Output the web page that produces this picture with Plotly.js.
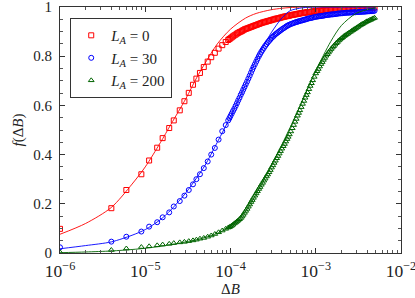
<!DOCTYPE html>
<html>
<head>
<meta charset="utf-8">
<script src="https://cdn.plot.ly/plotly-3.0.1.min.js"></script>
<style>
html,body{margin:0;padding:0;background:#fff;}
#chart{width:415px;height:298px;}
</style>
</head>
<body>
<div id="chart"></div>
<script>
// Shared ΔB grid of the measured points
var deltaB = [1e-6, 4.0e-6, 6.0e-6, 9.0e-6, 1.11e-5, 1.38e-5, 1.6e-5, 1.91e-5, 2.16e-5, 2.54e-5, 2.88e-5, 3.24e-5, 3.63e-5, 3.98e-5, 4.38e-5, 4.86e-5, 5.4e-5, 5.94e-5, 6.55e-5, 7.25e-5, 8.0e-5, 8.79e-5,
  9.4e-5, 9.7e-5, 1.0e-4, 1.035e-4, 1.07e-4, 1.11e-4, 1.15e-4, 1.19e-4, 1.23e-4, 1.275e-4, 1.32e-4, 1.365e-4, 1.41e-4, 1.46e-4, 1.51e-4, 1.565e-4, 1.62e-4, 1.68e-4, 1.74e-4, 1.8e-4, 1.86e-4, 1.93e-4,
  2.0e-4, 2.07e-4, 2.15e-4, 2.22e-4, 2.3e-4, 2.38e-4, 2.46e-4, 2.55e-4, 2.64e-4, 2.73e-4, 2.83e-4, 2.93e-4, 3.03e-4, 3.14e-4, 3.25e-4, 3.36e-4, 3.48e-4, 3.6e-4, 3.73e-4, 3.86e-4,
  4.0e-4, 4.15e-4, 4.3e-4, 4.45e-4, 4.6e-4, 4.75e-4, 4.9e-4, 5.1e-4, 5.3e-4, 5.5e-4, 5.7e-4, 5.9e-4, 6.1e-4, 6.3e-4, 6.5e-4, 6.75e-4, 7.0e-4, 7.25e-4, 7.5e-4, 7.75e-4, 8.0e-4, 8.3e-4, 8.6e-4, 8.9e-4, 9.2e-4, 9.6e-4,
  1.0e-3, 1.035e-3, 1.07e-3, 1.11e-3, 1.15e-3, 1.19e-3, 1.23e-3, 1.275e-3, 1.32e-3, 1.365e-3, 1.41e-3, 1.46e-3, 1.51e-3, 1.565e-3, 1.62e-3, 1.68e-3, 1.74e-3, 1.8e-3, 1.86e-3, 1.93e-3,
  2.0e-3, 2.07e-3, 2.15e-3, 2.22e-3, 2.3e-3, 2.38e-3, 2.46e-3, 2.55e-3, 2.64e-3, 2.73e-3, 2.83e-3, 2.93e-3, 3.03e-3, 3.14e-3, 3.25e-3, 3.36e-3, 3.48e-3, 3.6e-3, 3.73e-3, 3.86e-3,
  4.0e-3, 4.15e-3, 4.3e-3, 4.45e-3, 4.6e-3, 4.75e-3, 4.9e-3];

// f(ΔB) for L_A = 0
var fL0 = [0.098, 0.182, 0.256, 0.32, 0.376, 0.428, 0.467, 0.508, 0.539, 0.58, 0.617, 0.651, 0.684, 0.709, 0.732, 0.756, 0.778, 0.796, 0.814, 0.831, 0.845, 0.858,
  0.866, 0.870, 0.873, 0.877, 0.881, 0.885, 0.888, 0.892, 0.895, 0.898, 0.900, 0.903, 0.906, 0.909, 0.911, 0.913, 0.915, 0.917, 0.919, 0.921, 0.923, 0.925,
  0.927, 0.929, 0.931, 0.933, 0.935, 0.937, 0.938, 0.940, 0.941, 0.943, 0.944, 0.946, 0.947, 0.949, 0.950, 0.952, 0.953, 0.954, 0.955, 0.957,
  0.958, 0.960, 0.961, 0.962, 0.963, 0.964, 0.965, 0.967, 0.968, 0.969, 0.970, 0.971, 0.972, 0.973, 0.974, 0.975, 0.976, 0.977, 0.977, 0.978, 0.979, 0.980, 0.980, 0.981, 0.982, 0.983,
  0.983, 0.984, 0.984, 0.985, 0.985, 0.986, 0.986, 0.987, 0.987, 0.988, 0.988, 0.989, 0.989, 0.990, 0.990, 0.990, 0.990, 0.991, 0.991, 0.992,
  0.992, 0.992, 0.992, 0.993, 0.993, 0.993, 0.994, 0.994, 0.994, 0.995, 0.995, 0.995, 0.995, 0.996, 0.996, 0.996, 0.996, 0.997, 0.997, 0.997,
  0.997, 0.997, 0.997, 0.998, 0.998, 0.998, 0.998];

// f(ΔB) for L_A = 30
var fL30 = [0.023, 0.046, 0.066, 0.087, 0.107, 0.125, 0.145, 0.165, 0.189, 0.211, 0.233, 0.256, 0.279, 0.3, 0.32, 0.345, 0.372, 0.4, 0.427, 0.461, 0.495, 0.52,
  0.539, 0.548, 0.557, 0.567, 0.577, 0.587, 0.598, 0.609, 0.620, 0.631, 0.643, 0.653, 0.664, 0.675, 0.686, 0.697, 0.709, 0.721, 0.733, 0.745, 0.756, 0.767,
  0.778, 0.789, 0.800, 0.809, 0.818, 0.826, 0.834, 0.842, 0.849, 0.856, 0.862, 0.868, 0.874, 0.879, 0.884, 0.889, 0.893, 0.897, 0.901, 0.905,
  0.909, 0.913, 0.916, 0.920, 0.923, 0.926, 0.928, 0.931, 0.933, 0.935, 0.937, 0.939, 0.940, 0.942, 0.943, 0.945, 0.946, 0.948, 0.949, 0.951, 0.952, 0.954, 0.955, 0.956, 0.957, 0.959,
  0.960, 0.961, 0.962, 0.963, 0.963, 0.964, 0.965, 0.966, 0.967, 0.968, 0.968, 0.969, 0.970, 0.970, 0.971, 0.971, 0.972, 0.973, 0.974, 0.974,
  0.975, 0.975, 0.976, 0.976, 0.977, 0.977, 0.977, 0.978, 0.978, 0.978, 0.979, 0.979, 0.980, 0.980, 0.980, 0.980, 0.981, 0.981, 0.981, 0.982,
  0.982, 0.983, 0.983, 0.983, 0.984, 0.984, 0.985];

// f(ΔB) for L_A = 200
var fL200 = [0.003, 0.012, 0.018, 0.024, 0.027, 0.031, 0.034, 0.037, 0.04, 0.043, 0.045, 0.048, 0.051, 0.054, 0.058, 0.061, 0.066, 0.071, 0.077, 0.084, 0.091, 0.098,
  0.103, 0.105, 0.108, 0.111, 0.115, 0.120, 0.124, 0.128, 0.132, 0.137, 0.142, 0.148, 0.155, 0.163, 0.171, 0.179, 0.188, 0.197, 0.207, 0.215, 0.224, 0.233,
  0.242, 0.251, 0.260, 0.268, 0.277, 0.285, 0.294, 0.302, 0.311, 0.319, 0.328, 0.337, 0.347, 0.356, 0.366, 0.375, 0.385, 0.394, 0.404, 0.414,
  0.424, 0.434, 0.443, 0.453, 0.463, 0.472, 0.482, 0.494, 0.507, 0.520, 0.533, 0.545, 0.558, 0.569, 0.580, 0.593, 0.606, 0.618, 0.631, 0.642, 0.653, 0.666, 0.679, 0.690, 0.702, 0.716,
  0.730, 0.739, 0.748, 0.758, 0.768, 0.776, 0.785, 0.793, 0.802, 0.808, 0.815, 0.822, 0.829, 0.835, 0.841, 0.847, 0.853, 0.858, 0.864, 0.868,
  0.873, 0.877, 0.882, 0.885, 0.889, 0.892, 0.896, 0.899, 0.903, 0.906, 0.910, 0.913, 0.917, 0.920, 0.924, 0.927, 0.930, 0.933, 0.936, 0.939,
  0.942, 0.944, 0.947, 0.949, 0.952, 0.954, 0.956];

// Fitted curves
var fitB = [1e-6, 2e-6, 4e-6, 7e-6, 1e-5, 1.5e-5, 2e-5, 3e-5, 4e-5, 5e-5, 7e-5, 1e-4, 1.5e-4, 2e-4, 3e-4, 4e-4, 5e-4, 7e-4, 1e-3, 1.5e-3, 2e-3, 3e-3, 5e-3];
var fitL0   = [0.076, 0.12, 0.185, 0.28, 0.35, 0.448, 0.523, 0.628, 0.712, 0.77, 0.85, 0.91, 0.955, 0.974, 0.989, 0.995, 0.998, 1.0, 1.0, 1.0, 1.0, 1.0, 1.0];
var fitL30  = [0.017, 0.03, 0.045, 0.072, 0.095, 0.135, 0.175, 0.245, 0.305, 0.355, 0.45, 0.555, 0.685, 0.785, 0.895, 0.955, 0.985, 0.997, 1.0, 1.0, 1.0, 1.0, 1.0];
var fitL200 = [0.001, 0.004, 0.008, 0.014, 0.019, 0.027, 0.034, 0.045, 0.054, 0.063, 0.08, 0.108, 0.17, 0.24, 0.355, 0.44, 0.51, 0.62, 0.74, 0.86, 0.925, 0.975, 0.997];

var seriesNames = ['<i>L<sub>A</sub></i> = 0', '<i>L<sub>A</sub></i> = 30', '<i>L<sub>A</sub></i> = 200'];
var colors = ['#ff0000', '#0000ff', '#006400'];
var symbols = ['square-open', 'circle-open', 'triangle-up-open'];
var dataSets = [fL0, fL30, fL200];
var fitSets = [fitL0, fitL30, fitL200];

var font = 'Liberation Serif, DejaVu Serif, serif';
var traces = [];
for (var i = 0; i < 3; i++) {
  traces.push({
    x: deltaB, y: dataSets[i], type: 'scatter', mode: 'markers', name: seriesNames[i],
    marker: {symbol: symbols[i], size: 5, color: colors[i], line: {width: 1, color: colors[i]}}
  });
}
for (var j = 0; j < 3; j++) {
  traces.push({
    x: fitB, y: fitSets[j], type: 'scatter', mode: 'lines', showlegend: false,
    line: {color: colors[j], width: 0.9, shape: 'spline', smoothing: 0.8}
  });
}

var layout = {
  width: 415, height: 298,
  margin: {l: 60, r: 14, t: 7, b: 45},
  paper_bgcolor: '#fff', plot_bgcolor: '#fff',
  font: {family: font, size: 15, color: '#222'},
  showlegend: true,
  legend: {
    x: 0.03, y: 0.955, xanchor: 'left', yanchor: 'top',
    bordercolor: '#333', borderwidth: 1, bgcolor: '#fff',
    font: {family: font, size: 15, color: '#222'},
    tracegroupgap: 0, itemwidth: 30
  },
  xaxis: {
    type: 'log', range: [-6.0001, -1.9999], dtick: 1, exponentformat: 'power',
    showgrid: false, zeroline: false, showline: true, linecolor: '#333', linewidth: 1,
    mirror: 'ticks', ticks: 'inside', ticklen: 5, tickcolor: '#333', ticklabelstandoff: 3,
    ticklabeloverflow: 'allow',
    tickfont: {family: font, size: 14, color: '#222'},
    minor: {ticks: 'inside', ticklen: 3, tickcolor: '#555', dtick: 'D1', showgrid: false},
    title: {text: 'Δ<i>B</i>', font: {family: font, size: 15, color: '#222'}, standoff: 3}
  },
  yaxis: {
    range: [-0.0002, 1.0002], tickmode: 'array', tickvals: [0, 0.2, 0.4, 0.6, 0.8, 1],
    showgrid: false, zeroline: false,
    showline: true, linecolor: '#333', linewidth: 1,
    mirror: 'ticks', ticks: 'inside', ticklen: 5, tickcolor: '#333', ticklabelstandoff: 4,
    ticklabeloverflow: 'allow',
    tickfont: {family: font, size: 15, color: '#222'},
    minor: {ticks: 'inside', ticklen: 3, tickcolor: '#555', dtick: 0.05, showgrid: false},
    title: {text: '<i>f</i>(Δ<i>B</i>)', font: {family: font, size: 15, color: '#222'}, standoff: 6}
  }
};

Plotly.newPlot('chart', traces, layout, {staticPlot: true, displayModeBar: false});
</script>
</body>
</html>
